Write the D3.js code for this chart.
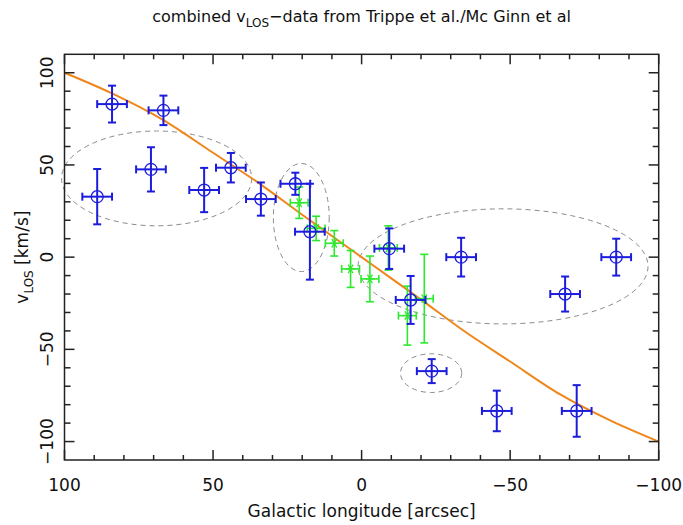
<!DOCTYPE html>
<html><head><meta charset="utf-8">
<script src="https://cdn.jsdelivr.net/npm/d3@7"></script>
<style>body{margin:0;background:#fff}svg{display:block}text{font-family:"DejaVu Sans",sans-serif;fill:#111}</style>
</head><body>
<svg id="c" width="683" height="525"></svg>
<script>
// Blue data (Trippe et al.)
const blueL    = [84, 66.7, 89, 70.9, 53, 44, 33.9, 22.3, 17.4, -9.3, -16.5, -33.5, -68.5, -85.7, -23.6, -45.5, -72.4];
const blueV    = [83, 79.6, 32.8, 47.6, 36.4, 48.5, 31.5, 39.8, 13.8, 4.6, -23.2, 0, -20, 0, -61.8, -83.4, -83.4];
const blueLErr = [5, 5, 5, 5, 5, 5, 5, 5, 5, 5, 5, 5, 5, 5, 5, 5, 5];
const blueVErr = [10, 8, 15, 12, 12, 8, 9, 6, 26, 11, 13, 10.5, 9.5, 10, 6.5, 11, 14];
// Green data (Mc Ginn et al.)
const greenL    = [21, 15.3, 9.2, 3.7, -2.8, -9, -15.4, -21.1];
const greenV    = [29.5, 15.6, 7.5, -6.4, -11.8, 5, -31.7, -22.5];
const greenLErr = [3, 3, 3, 3, 3, 3, 3, 3];
const greenVErr = [8.5, 6.6, 6.9, 10, 12.4, 12, 16, 24];
// Model curve
const curveL = [100, 84, 67, 50, 34, 20, 10, 0, -10, -20, -34, -50, -67, -84, -100];
const curveV = [100, 88.8, 74.6, 56.6, 39.5, 23, 11.5, 0, -11.5, -23, -39.5, -56.6, -74.6, -88.8, -100];
// Ellipses (groups)
const ellL  = [69, 20.3, -47.6, -23.4];
const ellV  = [42.7, 21.5, -5, -62.9];
const ellRL = [32, 9.4, 48.8, 10.3];
const ellRV = [25.7, 29.3, 31.2, 10.5];
// Axis ticks
const xMajor = [100, 50, 0, -50, -100];
const yMajor = [100, 50, 0, -50, -100];

const L = 64.5, R = 658.7, T = 54.3, B = 460;
const x = d3.scaleLinear().domain([100, -100]).range([L, R]);
const y = d3.scaleLinear().domain([-110, 110]).range([B, T]);
const svg = d3.select("#c");

// ellipses
svg.append("g").selectAll("ellipse").data(ellL.map((l,i)=>i)).join("ellipse")
  .attr("cx", i=>x(ellL[i])).attr("cy", i=>y(ellV[i]))
  .attr("rx", i=>Math.abs(x(ellL[i]+ellRL[i]) - x(ellL[i])))
  .attr("ry", i=>Math.abs(y(ellV[i]+ellRV[i]) - y(ellV[i])))
  .attr("fill","none").attr("stroke","#8a8a8a").attr("stroke-width",1).attr("stroke-dasharray","5,4");

// curve
const line = d3.line().x(d=>x(d[0])).y(d=>y(d[1])).curve(d3.curveMonotoneX);
svg.append("path").datum(curveL.map((l,i)=>[l,curveV[i]]).sort((a,b)=>a[0]-b[0]))
  .attr("d", line).attr("fill","none").attr("stroke","#f0861a").attr("stroke-width",2);

function errbars(g, Ls, Vs, LE, VE, color, cap, sw) {
  const idx = Ls.map((d,i)=>i);
  const e = g.append("g").attr("stroke", color).attr("stroke-width", sw).attr("fill","none");
  idx.forEach(i=>{
    const cx = x(Ls[i]), cy = y(Vs[i]);
    const x1 = x(Ls[i]+LE[i]), x2 = x(Ls[i]-LE[i]);
    const y1 = y(Vs[i]+VE[i]), y2 = y(Vs[i]-VE[i]);
    e.append("line").attr("x1",x1).attr("x2",x2).attr("y1",cy).attr("y2",cy);
    e.append("line").attr("x1",cx).attr("x2",cx).attr("y1",y1).attr("y2",y2);
    e.append("line").attr("x1",x1).attr("x2",x1).attr("y1",cy-cap).attr("y2",cy+cap);
    e.append("line").attr("x1",x2).attr("x2",x2).attr("y1",cy-cap).attr("y2",cy+cap);
    e.append("line").attr("x1",cx-cap).attr("x2",cx+cap).attr("y1",y1).attr("y2",y1);
    e.append("line").attr("x1",cx-cap).attr("x2",cx+cap).attr("y1",y2).attr("y2",y2);
  });
  return e;
}

// green
const gg = errbars(svg, greenL, greenV, greenLErr, greenVErr, "#2ee82e", 4, 1.6);
greenL.forEach((l,i)=>{
  const cx = x(l), cy = y(greenV[i]), r = 5;
  [0,60,120].forEach(a=>{
    const rad = a*Math.PI/180;
    gg.append("line").attr("x1",cx-r*Math.cos(rad)).attr("x2",cx+r*Math.cos(rad))
      .attr("y1",cy-r*Math.sin(rad)).attr("y2",cy+r*Math.sin(rad)).attr("stroke-width",1.3);
  });
});
// blue
const bg = errbars(svg, blueL, blueV, blueLErr, blueVErr, "#1c1cdc", 4, 2);
blueL.forEach((l,i)=>{
  bg.append("circle").attr("cx",x(l)).attr("cy",y(blueV[i])).attr("r",6).attr("stroke-width",1.3);
});

// frame
const ax = svg.append("g").attr("stroke","#222").attr("stroke-width",1.5);
ax.append("rect").attr("x",L).attr("y",T).attr("width",R-L).attr("height",B-T).attr("fill","none");
const xt = d3.range(100, -101, -10);
xt.forEach(t=>{
  const len = xMajor.includes(t) ? 10 : 5;
  ax.append("line").attr("x1",x(t)).attr("x2",x(t)).attr("y1",B).attr("y2",B-len);
  ax.append("line").attr("x1",x(t)).attr("x2",x(t)).attr("y1",T).attr("y2",T+len);
});
const yt = d3.range(-100, 101, 10);
yt.forEach(t=>{
  const len = yMajor.includes(t) ? 10 : 6;
  ax.append("line").attr("x1",L).attr("x2",L+len).attr("y1",y(t)).attr("y2",y(t));
  ax.append("line").attr("x1",R).attr("x2",R-len).attr("y1",y(t)).attr("y2",y(t));
});
// tick labels
svg.append("g").selectAll("text").data(xMajor).join("text")
  .attr("x", d=>x(d)).attr("y", 491).attr("text-anchor","middle").attr("font-size",17)
  .text(d=> d<0 ? "\u2212"+Math.abs(d) : d);
svg.append("g").selectAll("text").data(yMajor).join("text")
  .attr("transform", d=>`translate(53,${y(d)}) rotate(-90)`).attr("text-anchor","middle").attr("font-size",17)
  .text(d=> d<0 ? "\u2212"+Math.abs(d) : d);

// axis labels
svg.append("text").attr("x",(L+R)/2).attr("y",517).attr("text-anchor","middle").attr("font-size",17)
  .text("Galactic longitude [arcsec]");
const yl = svg.append("text").attr("transform",`translate(28,${(T+B)/2}) rotate(-90)`).attr("text-anchor","middle").attr("font-size",17);
yl.append("tspan").text("v");
yl.append("tspan").attr("font-size",12).attr("dy",5).text("LOS");
yl.append("tspan").attr("dy",-5).text(" [km/s]");

const tt = svg.append("text").attr("x",(L+R)/2).attr("y",22).attr("text-anchor","middle").attr("font-size",16);
tt.append("tspan").text("combined v");
tt.append("tspan").attr("font-size",12).attr("dy",5).text("LOS");
tt.append("tspan").attr("dy",-5).text("\u2212data from Trippe et al./Mc Ginn et al");
</script>
</body></html>
